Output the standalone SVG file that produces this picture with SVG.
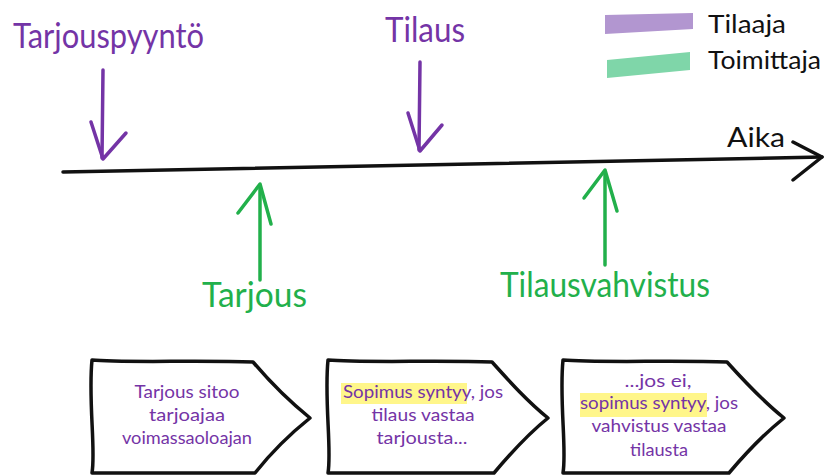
<svg xmlns="http://www.w3.org/2000/svg" width="824" height="475" viewBox="0 0 824 475">
  <style>
    .purple { fill: #7434A6; }
    .green { fill: #22B04B; }
    .ink { fill: #111; }
    .hand { font-family: Lato, "Open Sans", "Liberation Sans", sans-serif; }
    .label { font-size: 34px; }
    .legend { font-size: 25px; }
    .note { font-size: 17px; text-anchor: middle; }
    .arrow-p { fill: none; stroke: #7434A6; stroke-width: 3.5; stroke-linecap: round; stroke-linejoin: round; }
    .arrow-g { fill: none; stroke: #22B04B; stroke-width: 3.5; stroke-linecap: round; stroke-linejoin: round; }
    .box { fill: #fff; stroke: #111; stroke-width: 3.5; stroke-linejoin: round; }
    .hl { fill: #FFF68A; }
  </style>

  <rect width="824" height="475" fill="#fff"/>

  <!-- legend -->
  <g id="legend">
    <path d="M605,15 L693,13 L693,29 L605,34 Z" fill="#B296D0"/>
    <path d="M607,60 L690,52 L690,70 L607,78 Z" fill="#7FD6A9"/>
    <text class="hand legend ink" x="708" y="33" textLength="78" lengthAdjust="spacingAndGlyphs">Tilaaja</text>
    <text class="hand legend ink" x="708" y="69" textLength="113" lengthAdjust="spacingAndGlyphs">Toimittaja</text>
  </g>

  <!-- connectors: timeline and event arrows -->
  <g id="connectors">
    <path d="M63,172 C250,169 450,162 822,157" fill="none" stroke="#111" stroke-width="3.5" stroke-linecap="round"/>
    <polyline points="793,142 822,157 793,180" fill="none" stroke="#111" stroke-width="3.5" stroke-linecap="round" stroke-linejoin="round"/>

    <path class="arrow-p" d="M103,70 L102,158"/>
    <polyline class="arrow-p" points="91,122 103,159 126,133"/>

    <path class="arrow-p" d="M420,62 L419,150"/>
    <polyline class="arrow-p" points="408,113 420,151 442,125"/>

    <path class="arrow-g" d="M260,280 L260,186"/>
    <polyline class="arrow-g" points="238,213 260,184 271,224"/>

    <path class="arrow-g" d="M605,265 L605,172"/>
    <polyline class="arrow-g" points="584,198 605,170 617,211"/>
  </g>

  <!-- time axis label -->
  <g id="axis-label">
    <text class="hand ink" x="727" y="147" font-size="27" textLength="58" lengthAdjust="spacingAndGlyphs">Aika</text>
  </g>

  <!-- events -->
  <g id="tarjouspyynto">
    <text class="hand label purple" x="13" y="48" textLength="191" lengthAdjust="spacingAndGlyphs">Tarjouspyyntö</text>
  </g>
  <g id="tilaus">
    <text class="hand label purple" x="385" y="42" textLength="80" lengthAdjust="spacingAndGlyphs">Tilaus</text>
  </g>
  <g id="tarjous">
    <text class="hand label green" x="202" y="307" textLength="105" lengthAdjust="spacingAndGlyphs">Tarjous</text>
  </g>
  <g id="tilausvahvistus">
    <text class="hand label green" x="500" y="297" textLength="210" lengthAdjust="spacingAndGlyphs">Tilausvahvistus</text>
  </g>

  <!-- explanation boxes -->
  <g id="box-tarjous">
    <path class="box" d="M92,360 C120,363 200,360 253,362 C270,382 290,402 310,418 C290,434 270,454 255,473 L92,473 C96,450 88,400 92,360 Z"/>
    <text class="hand note purple" x="187" y="398" textLength="105" lengthAdjust="spacingAndGlyphs">Tarjous sitoo</text>
    <text class="hand note purple" x="187" y="421" textLength="76" lengthAdjust="spacingAndGlyphs">tarjoajaa</text>
    <text class="hand note purple" x="187" y="444" textLength="130" lengthAdjust="spacingAndGlyphs">voimassaoloajan</text>
  </g>

  <g id="box-sopimus">
    <path class="box" d="M328,360 C360,363 440,360 492,362 C510,382 528,402 548,418 C528,434 510,454 494,473 L328,473 C332,450 324,400 328,360 Z"/>
    <rect class="hl" x="341" y="383" width="126" height="21"/>
    <text class="hand note purple" x="423" y="398" textLength="160" lengthAdjust="spacingAndGlyphs">Sopimus syntyy, jos</text>
    <text class="hand note purple" x="423" y="421" textLength="103" lengthAdjust="spacingAndGlyphs">tilaus vastaa</text>
    <text class="hand note purple" x="422" y="444" textLength="91" lengthAdjust="spacingAndGlyphs">tarjousta...</text>
  </g>

  <g id="box-vahvistus">
    <path class="box" d="M563,360 C595,363 675,360 727,362 C745,382 764,402 784,418 C764,434 745,454 729,473 L563,473 C567,450 559,400 563,360 Z"/>
    <rect class="hl" x="580" y="393" width="127" height="24"/>
    <text class="hand note purple" x="658" y="387" textLength="67" lengthAdjust="spacingAndGlyphs">...jos ei,</text>
    <text class="hand note purple" x="659" y="409" textLength="158" lengthAdjust="spacingAndGlyphs">sopimus syntyy, jos</text>
    <text class="hand note purple" x="659" y="432" textLength="135" lengthAdjust="spacingAndGlyphs">vahvistus vastaa</text>
    <text class="hand note purple" x="659" y="456" textLength="58" lengthAdjust="spacingAndGlyphs">tilausta</text>
  </g>
</svg>
